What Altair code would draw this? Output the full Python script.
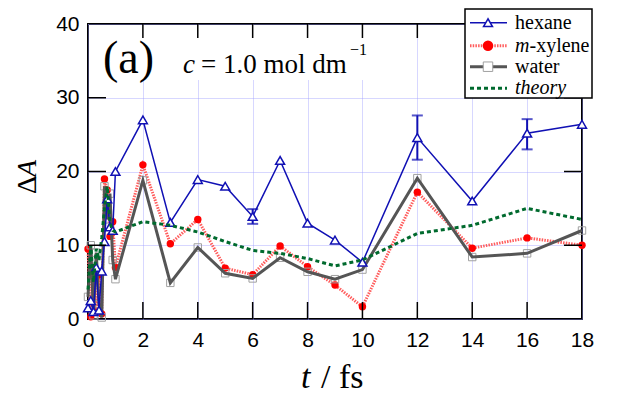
import altair as alt
import pandas as pd

# ---- data ----
t = [0.0, 0.1, 0.2, 0.3, 0.4, 0.5, 0.6, 0.7, 0.8, 0.9, 1.0,
     2, 3, 4, 5, 6, 7, 8, 9, 10, 12, 14, 16, 18]
hexane = [1.5, 2.5, 1.0, 7.0, 1.2, 6.5, 10.5, 16.3, 12.5, 12.0, 20.0,
          27.0, 13.1, 18.9, 18.0, 13.9, 21.5, 13.0, 10.7, 7.7, 24.6, 16.0, 25.2, 26.4]
mxylene = [9.5, 0.3, 7.0, 1.0, 6.0, 0.7, 19.0, 17.5, 11.2, 13.2, 7.0,
           20.9, 10.2, 13.5, 6.9, 6.0, 9.9, 7.1, 4.6, 1.65, 17.2, 9.6, 11.0, 10.0]
water = [3.0, 10.0, 0.5, 9.0, 2.0, 0.2, 18.0, 13.5, 17.0, 8.0, 5.4,
         18.8, 4.9, 9.7, 6.2, 5.5, 8.3, 6.4, 5.4, 6.7, 19.1, 8.4, 8.9, 12.0]
theory = [4.0, 10.0, 5.0, 9.5, 8.0, 11.0, 15.0, 18.0, 13.0, 12.0, 11.8,
          13.2, 12.7, 11.8, 10.5, 9.3, 8.9, 8.2, 7.2, 8.0, 11.6, 12.7, 15.0, 13.5]

err_t = [6, 12, 16]
err_lo = [12.9, 21.6, 23.0]
err_hi = [14.9, 27.6, 27.1]

x_labels = [0, 2, 4, 6, 8, 10, 12, 14, 16, 18]
y_labels = [0, 10, 20, 30, 40]
x_inner_ticks = [2, 4, 6, 8, 10, 12, 14, 16]
y_inner_ticks = [10, 20, 30]

W, H = 494, 295
BLUE = "#1010b4"
RED = "#ff0000"
RED_LINE = "#ff5c5c"
GRAY = "#555555"
GREEN = "#006a2e"
SERIF = "'Liberation Serif', 'Times New Roman', Times, serif"
SANS = "'Liberation Sans', Arial, Helvetica, sans-serif"

df = pd.DataFrame({"t": t, "hexane": hexane, "mxylene": mxylene,
                   "water": water, "theory": theory})
err = pd.DataFrame({"t": err_t, "lo": err_lo, "hi": err_hi})
one = pd.DataFrame({"k": [0]})

xs = alt.Scale(domain=[0, 18], nice=False, zero=False)
ys = alt.Scale(domain=[0, 40], nice=False)
xaxis = alt.Axis(values=x_labels, grid=True, gridColor="#9a9aff", gridDash=[1, 1],
                 gridWidth=0.8, ticks=False, tickSize=0, domain=False,
                 labelFont=SANS, labelFontSize=21, labelColor="black",
                 labelPadding=10, labelFlush=False, labelOverlap=False, title=None)
yaxis = alt.Axis(values=y_labels, grid=True, gridColor="#9a9aff", gridDash=[1, 1],
                 gridWidth=0.8, ticks=False, tickSize=0, domain=False,
                 labelFont=SANS, labelFontSize=21, labelColor="black",
                 labelPadding=9, labelFlush=False, labelOverlap=False, title=None)


def X(f):
    return alt.X(f"{f}:Q", scale=xs, axis=xaxis)


def Y(f):
    return alt.Y(f"{f}:Q", scale=ys, axis=yaxis)


base = alt.Chart(df)

red_line = base.mark_line(color=RED_LINE, strokeWidth=3, strokeDash=[1.5, 1.2]).encode(x=X("t"), y=Y("mxylene"))
red_pts = base.mark_point(shape="circle", filled=True, color=RED, size=55, opacity=1).encode(x=X("t"), y=Y("mxylene"))
gray_pts = base.mark_point(shape="square", filled=False, color="#a0a0a0", size=55, strokeWidth=1, opacity=1).encode(x=X("t"), y=Y("water"))
gray_line = base.mark_line(color=GRAY, strokeWidth=3).encode(x=X("t"), y=Y("water"))
blue_line = base.mark_line(color=BLUE, strokeWidth=1.5).encode(x=X("t"), y=Y("hexane"))
blue_err = alt.Chart(err).mark_rule(color=BLUE, strokeWidth=2).encode(x=X("t"), y=Y("lo"), y2="hi")
blue_cap_lo = alt.Chart(err).mark_tick(color=BLUE, thickness=2, size=11, orient="horizontal").encode(x=X("t"), y=Y("lo"))
blue_cap_hi = alt.Chart(err).mark_tick(color=BLUE, thickness=2, size=11, orient="horizontal").encode(x=X("t"), y=Y("hi"))
blue_pts = base.mark_point(shape="triangle-up", filled=False, color=BLUE, fill="white", fillOpacity=1,
                           size=80, strokeWidth=1.5, opacity=1).encode(x=X("t"), y=Y("hexane"))
green_line = base.mark_line(color=GREEN, strokeWidth=3, strokeDash=[4, 3]).encode(x=X("t"), y=Y("theory"))

# white patch behind the annotation text (hides grid there)
patch = alt.Chart(one).mark_rect(fill="white", stroke=None).encode(
    x=alt.value(1), x2=alt.value(287), y=alt.value(1), y2=alt.value(56))

# inside ticks
xt = pd.DataFrame({"v": x_inner_ticks})
yt = pd.DataFrame({"v": y_inner_ticks})
bt = alt.Chart(xt).mark_rule(color="black", strokeWidth=1.5).encode(
    x=alt.X("v:Q", scale=xs, axis=xaxis), y=alt.value(H), y2=alt.value(H - 17))
tt = alt.Chart(xt).mark_rule(color="black", strokeWidth=1.5).encode(
    x=alt.X("v:Q", scale=xs, axis=xaxis), y=alt.value(0), y2=alt.value(14))
lt = alt.Chart(yt).mark_rule(color="black", strokeWidth=1.5).encode(
    y=alt.Y("v:Q", scale=ys, axis=yaxis), x=alt.value(0), x2=alt.value(18))
rt = alt.Chart(yt).mark_rule(color="black", strokeWidth=1.5).encode(
    y=alt.Y("v:Q", scale=ys, axis=yaxis), x=alt.value(W), x2=alt.value(W - 18))


def txt(s, x, y, size, style="normal", align="left", baseline="alphabetic", angle=0, font=SERIF):
    kw = dict(text=s, font=font, fontSize=size, fontStyle=style, align=align,
              baseline=baseline, color="black")
    if angle:
        kw["angle"] = angle
    return alt.Chart(one).mark_text(**kw).encode(x=alt.value(x), y=alt.value(y))


texts = [
    txt("(a)", 15, 49, 46),
    txt("c", 95, 48.7, 27, style="italic"),
    txt("= 1.0 mol dm", 113, 48.7, 27),
    txt("\u22121", 262, 31, 16),
    txt("\u0394", -60, 170, 28, baseline="middle", angle=270),
    txt("A", -60, 153, 28, style="italic", baseline="middle", angle=270),
    txt("t", 213, 364, 34, style="italic"),
    txt("/ fs", 233, 364, 34),
]

# legend
LX0, LX1, LXM, LT = 382, 419, 400, 427
ly = [-1.3, 21.7, 42.7, 64.3]
leg = [
    alt.Chart(one).mark_rect(fill="white", stroke="black", strokeWidth=1.5).encode(
        x=alt.value(377), x2=alt.value(504), y=alt.value(-15), y2=alt.value(74)),
    alt.Chart(one).mark_rule(color=BLUE, strokeWidth=1.5).encode(
        x=alt.value(LX0), x2=alt.value(LX1), y=alt.value(ly[0])),
    alt.Chart(one).mark_point(shape="triangle-up", filled=False, color=BLUE, fill="white", fillOpacity=1,
                              size=80, strokeWidth=1.5, opacity=1).encode(x=alt.value(LXM), y=alt.value(ly[0])),
    alt.Chart(one).mark_rule(color=RED_LINE, strokeWidth=3, strokeDash=[1.5, 1.2]).encode(
        x=alt.value(LX0), x2=alt.value(LX1), y=alt.value(ly[1])),
    alt.Chart(one).mark_point(shape="circle", filled=True, color=RED, size=110, opacity=1).encode(
        x=alt.value(LXM), y=alt.value(ly[1])),
    alt.Chart(one).mark_rule(color=GRAY, strokeWidth=3).encode(
        x=alt.value(LX0), x2=alt.value(LX1), y=alt.value(ly[2])),
    alt.Chart(one).mark_point(shape="square", filled=False, color="#a0a0a0", fill="white", fillOpacity=1,
                              size=90, strokeWidth=1, opacity=1).encode(x=alt.value(LXM), y=alt.value(ly[2])),
    alt.Chart(one).mark_rule(color=GREEN, strokeWidth=3, strokeDash=[4, 3]).encode(
        x=alt.value(LX0), x2=alt.value(LX1), y=alt.value(ly[3])),
    txt("hexane", LT, ly[0] + 6, 20),
    txt("m", LT, ly[1] + 6, 20, style="italic"),
    txt("-xylene", LT + 14.5, ly[1] + 6, 20),
    txt("water", LT, ly[2] + 6, 20),
    txt("theory", LT, ly[3] + 6, 20, style="italic"),
]

chart = alt.layer(
    red_line, red_pts, gray_pts, gray_line, blue_line, blue_err, blue_cap_lo, blue_cap_hi,
    blue_pts, green_line, patch, bt, tt, lt, rt, *texts, *leg
).properties(
    width=W, height=H,
    padding={"left": 80, "top": 16, "right": 50, "bottom": 80},
    autosize=alt.AutoSizeParams(type="none"),
).configure_view(stroke="black", strokeWidth=2)

chart.save("out.html", embed_options={"renderer": "svg", "actions": False})
